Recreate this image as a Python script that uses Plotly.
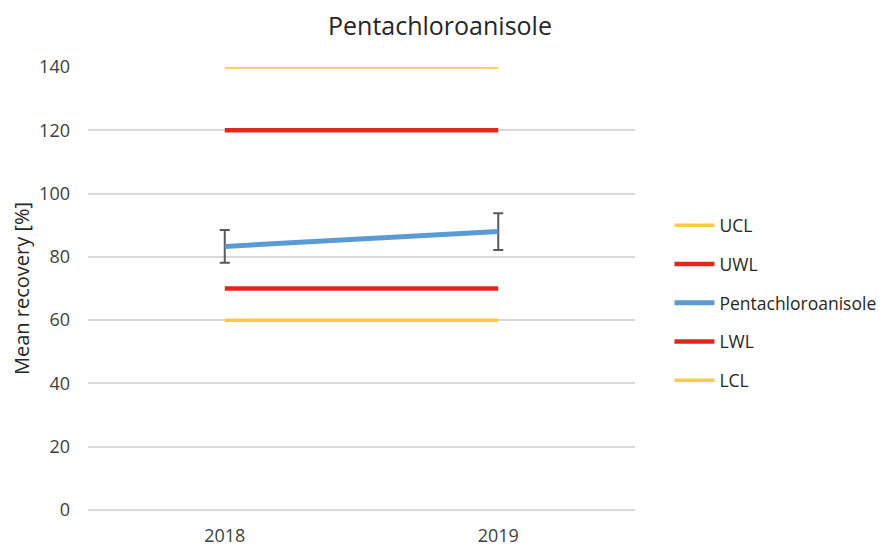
import plotly.graph_objects as go

years = ["2018", "2019"]
ucl = [140, 140]
uwl = [120, 120]
pca = [83.3, 88.0]
pca_err = [5.2, 5.8]
lwl = [70, 70]
lcl = [60, 60]
y_ticks = [0, 20, 40, 60, 80, 100, 120, 140]

YELLOW = "#FBCB45"
RED = "#E2281B"
BLUE = "#5B9BD5"

fig = go.Figure()
series = [
    ("UCL", ucl, YELLOW, 3.5, None),
    ("UWL", uwl, RED, 4.5, None),
    ("Pentachloroanisole", pca, BLUE, 5, pca_err),
    ("LWL", lwl, RED, 4.5, None),
    ("LCL", lcl, YELLOW, 3.5, None),
]
for i, (name, vals, col, w, err) in enumerate(series):
    kw = {}
    if err is not None:
        kw["error_y"] = dict(type="data", array=err, visible=True, color="#595959",
                             thickness=2, width=5)
    fig.add_trace(go.Scatter(
        x=years, y=vals, name=name, mode="lines",
        line=dict(color=col, width=w), legendgroup="g%d" % i,
        cliponaxis=False, **kw))

fig.update_layout(
    width=887, height=547,
    margin=dict(l=80, r=260, t=59, b=45),
    paper_bgcolor="white", plot_bgcolor="white",
    font=dict(family="Open Sans, Calibri, Arial", color="#404040"),
    title=dict(text="Pentachloroanisole", x=0.487, xanchor="center", y=0.966, yanchor="middle",
               font=dict(size=25, color="#262626")),
    showlegend=True,
    legend=dict(x=1.063, xanchor="left", y=0.683, yanchor="top",
                traceorder="grouped", tracegroupgap=13,
                font=dict(size=17.5, color="#262626"), itemwidth=40,
                bgcolor="rgba(0,0,0,0)"),
    xaxis=dict(type="category", range=[-0.5, 1.5], showgrid=False, showline=False,
               zeroline=False, ticks="", ticklabelstandoff=13, automargin=False,
               tickfont=dict(size=18, color="#404040")),
    yaxis=dict(range=[0, 140], tickvals=y_ticks, showgrid=True, gridcolor="#D9D9D9",
               gridwidth=1.5, zeroline=True, zerolinecolor="#D9D9D9", zerolinewidth=1.5,
               showline=False, ticks="", ticklabelstandoff=17, automargin=False,
               tickfont=dict(size=18, color="#404040"),
               title=dict(text="Mean recovery [%]", font=dict(size=20, color="#262626"),
                          standoff=8)),
)

fig.write_html("out.html")
